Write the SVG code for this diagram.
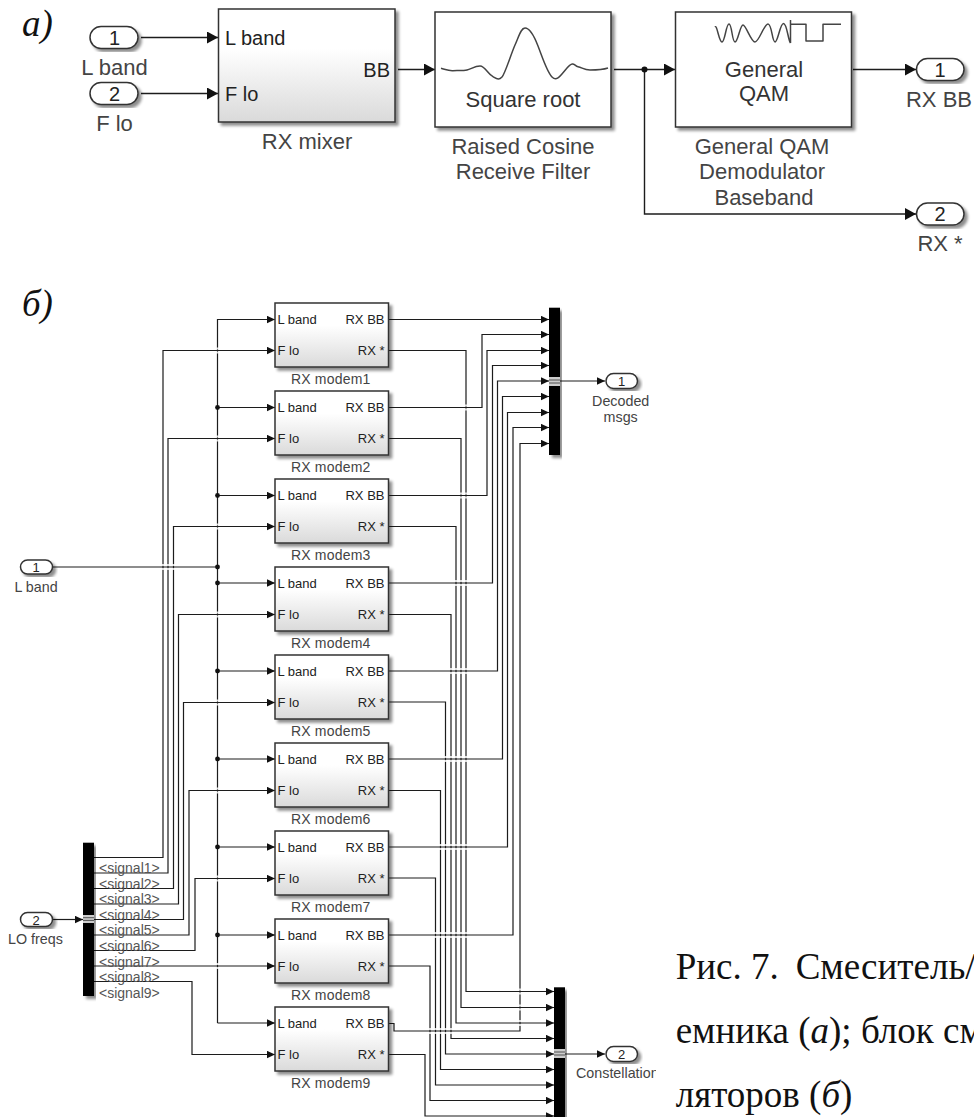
<svg xmlns="http://www.w3.org/2000/svg" width="974" height="1117" viewBox="0 0 974 1117">
<style>
text{font-family:"Liberation Sans",Arial,sans-serif;fill:#333}
.s{font-size:13px;fill:#222}
.t{font-size:14px;text-anchor:middle;fill:#444;letter-spacing:.2px}
.o{font-size:14.3px;text-anchor:middle;fill:#444}
.p{font-size:13px;text-anchor:middle;fill:#222}
.sig{font-size:14px;fill:#555}
.b{font-size:22px;text-anchor:middle;fill:#444}
.bi{font-size:22px;text-anchor:middle;fill:#333}
.in{font-size:20px;fill:#222}
.e{text-anchor:end}
.cap{font-family:"Liberation Serif","Times New Roman",serif;font-size:37px;fill:#111}
.i{font-style:italic}
.box{fill:url(#g);stroke:#333;stroke-width:1.5;filter:url(#sh)}
.wbox{fill:#fff;stroke:#333;stroke-width:1.5;filter:url(#sh)}
.port{fill:#fff;stroke:#333;stroke-width:1.5;filter:url(#sh)}
.mux{fill:#000;filter:url(#sh)}
.c{fill:none;stroke:#1c1c1c;stroke-width:1.2}
.cs{marker-end:url(#as)}
.cl{marker-end:url(#al);stroke-width:1.4}
.h{fill:none;stroke:#fff;stroke-width:2;opacity:.8}
.d{fill:#111}
.ic{fill:none;stroke:#444;stroke-width:1.5;stroke-linejoin:round}
</style>
<defs>
<linearGradient id="g" x1="0" y1="0" x2="0" y2="1"><stop offset="0" stop-color="#fff"/><stop offset=".35" stop-color="#fff"/><stop offset="1" stop-color="#dadada"/></linearGradient>
<filter id="sh" x="-10%" y="-10%" width="125%" height="125%"><feGaussianBlur in="SourceAlpha" stdDeviation="1.6"/><feOffset dx="2.5" dy="2.5"/><feComponentTransfer><feFuncA type="linear" slope=".45"/></feComponentTransfer><feMerge><feMergeNode/><feMergeNode in="SourceGraphic"/></feMerge></filter>
<marker id="as" markerUnits="userSpaceOnUse" markerWidth="9" markerHeight="8" refX="8" refY="4" orient="auto"><path d="M0 .3L8 4L0 7.7z" fill="#111"/></marker>
<marker id="al" markerUnits="userSpaceOnUse" markerWidth="12" markerHeight="12" refX="11" refY="6" orient="auto"><path d="M0 0L11 6L0 12z" fill="#111"/></marker>
<clipPath id="cl"><rect x="570" y="1060" width="86" height="26"/></clipPath>
</defs>
<rect width="974" height="1117" fill="#fff"/>

<g id="connectors">
<path class="c cl" d="M141 37.5H218"/>
<path class="c cl" d="M141 93.5H218"/>
<path class="c cl" d="M398 69.5H435"/>
<path class="c cl" d="M614 69.5H675"/>
<path class="c cl" d="M853 69.5H916"/>
<path class="c cl" d="M644.5 69.5V214H916"/>
<circle class="d" cx="644.5" cy="69.5" r="3"/>

<path class="c" d="M53 567H217.5"/>
<path class="c cs" d="M217.5 1023V319.5H275"/>
<path class="c cs" d="M217.5 407.5H275"/>
<path class="c cs" d="M217.5 495.5H275"/>
<path class="c cs" d="M217.5 583H275"/>
<path class="c cs" d="M217.5 671H275"/>
<path class="c cs" d="M217.5 759H275"/>
<path class="c cs" d="M217.5 847H275"/>
<path class="c cs" d="M217.5 935H275"/>
<path class="c cs" d="M217.5 1023H275"/>
<circle class="d" cx="217.5" cy="407.5" r="2.4"/><circle class="d" cx="217.5" cy="495.5" r="2.4"/><circle class="d" cx="217.5" cy="567" r="2.4"/><circle class="d" cx="217.5" cy="583" r="2.4"/><circle class="d" cx="217.5" cy="671" r="2.4"/><circle class="d" cx="217.5" cy="759" r="2.4"/><circle class="d" cx="217.5" cy="847" r="2.4"/><circle class="d" cx="217.5" cy="935" r="2.4"/>

<path class="c cs" d="M94 857.5H163V350.5H275"/>
<path class="c cs" d="M94 873H168V438.5H275"/>
<path class="c cs" d="M94 888.5H173.5V526.5H275"/>
<path class="c cs" d="M94 904H178.5V614.5H275"/>
<path class="c cs" d="M94 919.5H183.5V702.5H275"/>
<path class="c cs" d="M94 935H189V790.5H275"/>
<path class="c cs" d="M94 950.5H195V878.5H275"/>
<path class="c cs" d="M94 966H275"/>
<path class="c cs" d="M94 981.5H192V1054.5H275"/>
<path class="c cs" d="M53 919.5H83"/>

<path class="c cs" d="M389 319.5H549"/>
<path class="c cs" d="M389 407.5H482V334.5H549"/>
<path class="c cs" d="M389 495.5H487V350.5H549"/>
<path class="c cs" d="M389 583H492.5V365.5H549"/>
<path class="c cs" d="M389 671H497.5V381H549"/>
<path class="c cs" d="M389 759H502.5V396.5H549"/>
<path class="c cs" d="M389 847H507.5V412.5H549"/>
<path class="c cs" d="M389 935H513V427.5H549"/>
<path class="c cs" d="M389 1023.5H394V1031H520V443.5H549"/>
<path class="c cs" d="M560 381H605"/>

<path class="c cs" d="M389 350.5H466V991.5H554"/>
<path class="c cs" d="M389 438.5H461V1007.5H554"/>
<path class="c cs" d="M389 526.5H456V1023H554"/>
<path class="c cs" d="M389 614.5H451V1038.5H554"/>
<path class="c cs" d="M389 702H445.5V1054H554"/>
<path class="c cs" d="M389 790.5H440.5V1069.5H554"/>
<path class="c cs" d="M389 878H435.5V1085H554"/>
<path class="c cs" d="M389 966H430V1100.5H554"/>
<path class="c cs" d="M389 1054.5H425V1116H554"/>
<path class="c cs" d="M565 1054H605"/>

<path class="h" d="M389 405.5H479M389 409.5H479M389 493.5H484M389 497.5H484M389 581H489M389 585H489M389 669H494M389 673H494M389 757H499M389 761H499M389 845H505M389 849H505M389 933H510M389 937H510M398 1029H517M398 1033H517M516 989.5H524M516 993.5H524M516 1005.5H524M516 1009.5H524M516 1021H524M516 1025H524M214 348.5H221M214 352.5H221M214 436.5H221M214 440.5H221M214 524.5H221M214 528.5H221M214 612.5H221M214 616.5H221M214 700.5H221M214 704.5H221M214 788.5H221M214 792.5H221M214 876.5H221M214 880.5H221M214 964H221M214 968H221M160 565H177M160 569H177"/>
</g>

<g id="label-a"><text class="cap i" x="22" y="36">а)</text></g>
<g id="label-b"><text class="cap i" x="22" y="316">б)</text></g>

<g id="in-lband"><rect class="port" x="90" y="26.5" width="48" height="22" rx="11"/><text class="in" x="114.5" y="44.7" text-anchor="middle">1</text><text class="b" x="114.5" y="75">L band</text></g>
<g id="in-flo"><rect class="port" x="90" y="82.5" width="48" height="22" rx="11"/><text class="in" x="114.5" y="100.7" text-anchor="middle">2</text><text class="b" x="114.5" y="131">F lo</text></g>
<g id="rx-mixer"><rect class="box" x="218.5" y="9" width="176.5" height="113"/><text class="in" x="225" y="44.7">L band</text><text class="in" x="225" y="100.7">F lo</text><text class="in e" x="390" y="76.7">BB</text><text class="b" x="307" y="148.5">RX mixer</text></g>
<g id="rc-filter"><rect class="wbox" x="435" y="12" width="176" height="115"/><path class="ic" d="M441 68.3C447 70 449 71 453 70.700S463 71 467 70S475 66 480 66S488 74 493 76.700S499 80 502 77S511 54 515 45S521 28 525 28S533 33 538 46S547 72 552 77S560 76 567 68S574 66 578 66.700S584 70 590 70S602 70 608 68"/><text class="bi" x="523" y="106.700">Square root</text><text class="b" x="523" y="153.700">Raised Cosine</text><text class="b" x="523" y="179.300">Receive Filter</text></g>
<g id="qam"><rect class="wbox" x="675.500" y="12" width="176" height="115"/><path class="ic" d="M715 27C717 24 719 42 722 42S726 24 729 24S732 42 735 42S740 25 743 25S751 42 755 42S764 24 768 24S772 42 775 42S780 23.500 783.500 23.500S788 40 790.500 43M790.500 20V43M790.500 24.300H806V41H823V24.300H841"/><text class="bi" x="764" y="76.700">General</text><text class="bi" x="764" y="100.700">QAM</text><text class="b" x="762" y="153.700">General QAM</text><text class="b" x="762" y="179.300">Demodulator</text><text class="b" x="764" y="204.500">Baseband</text></g>
<g id="out-rxbb"><rect class="port" x="916.500" y="58.500" width="47.500" height="22" rx="11"/><text class="in" x="940" y="76.700" text-anchor="middle">1</text><text class="b" x="939" y="106.700">RX BB</text></g>
<g id="out-rxs"><rect class="port" x="916.500" y="203" width="47.500" height="22" rx="11"/><text class="in" x="940" y="221.200" text-anchor="middle">2</text><text class="b" x="940" y="250.700">RX *</text></g>

<g id="in2-lband"><rect class="port" x="20.500" y="560" width="32" height="14" rx="7"/><text class="p" x="36" y="572">1</text><text class="o" x="36" y="592">L band</text></g>
<g id="in2-lo"><rect class="port" x="20.500" y="912.500" width="32" height="14" rx="7"/><text class="p" x="36" y="924.700">2</text><text class="o" x="35.500" y="944">LO freqs</text></g>
<g id="demux"><rect class="mux" x="83" y="842.700" width="11" height="153.300"/><path d="M83 915h11v8H83z" fill="#ccc"/><path d="M83 917.700h11M83 920.400h11" stroke="#333" stroke-width=".8"/>
<text class="sig" x="99" y="873">&lt;signal1&gt;</text><text class="sig" x="99" y="888.600">&lt;signal2&gt;</text><text class="sig" x="99" y="904.200">&lt;signal3&gt;</text><text class="sig" x="99" y="919.800">&lt;signal4&gt;</text><text class="sig" x="99" y="935.400">&lt;signal5&gt;</text><text class="sig" x="99" y="951">&lt;signal6&gt;</text><text class="sig" x="99" y="966.600">&lt;signal7&gt;</text><text class="sig" x="99" y="982.200">&lt;signal8&gt;</text><text class="sig" x="99" y="997.800">&lt;signal9&gt;</text></g>

<g id="modem1"><rect class="box" x="275" y="303" width="113.500" height="64"/><text class="s" x="277.500" y="324.300">L band</text><text class="s" x="277.500" y="355.300">F lo</text><text class="s e" x="384.500" y="324.300">RX BB</text><text class="s e" x="384.500" y="355.300">RX *</text><text class="t" x="330.700" y="384">RX modem1</text></g>
<g id="modem2"><rect class="box" x="275" y="391" width="113.500" height="64"/><text class="s" x="277.500" y="412.300">L band</text><text class="s" x="277.500" y="443.300">F lo</text><text class="s e" x="384.500" y="412.300">RX BB</text><text class="s e" x="384.500" y="443.300">RX *</text><text class="t" x="330.700" y="472">RX modem2</text></g>
<g id="modem3"><rect class="box" x="275" y="479" width="113.500" height="64"/><text class="s" x="277.500" y="500.300">L band</text><text class="s" x="277.500" y="531.300">F lo</text><text class="s e" x="384.500" y="500.300">RX BB</text><text class="s e" x="384.500" y="531.300">RX *</text><text class="t" x="330.700" y="560">RX modem3</text></g>
<g id="modem4"><rect class="box" x="275" y="567" width="113.500" height="64"/><text class="s" x="277.500" y="588.300">L band</text><text class="s" x="277.500" y="619.300">F lo</text><text class="s e" x="384.500" y="588.300">RX BB</text><text class="s e" x="384.500" y="619.300">RX *</text><text class="t" x="330.700" y="648">RX modem4</text></g>
<g id="modem5"><rect class="box" x="275" y="655" width="113.500" height="64"/><text class="s" x="277.500" y="676.300">L band</text><text class="s" x="277.500" y="707.300">F lo</text><text class="s e" x="384.500" y="676.300">RX BB</text><text class="s e" x="384.500" y="707.300">RX *</text><text class="t" x="330.700" y="736">RX modem5</text></g>
<g id="modem6"><rect class="box" x="275" y="743" width="113.500" height="64"/><text class="s" x="277.500" y="764.300">L band</text><text class="s" x="277.500" y="795.300">F lo</text><text class="s e" x="384.500" y="764.300">RX BB</text><text class="s e" x="384.500" y="795.300">RX *</text><text class="t" x="330.700" y="824">RX modem6</text></g>
<g id="modem7"><rect class="box" x="275" y="831" width="113.500" height="64"/><text class="s" x="277.500" y="852.300">L band</text><text class="s" x="277.500" y="883.300">F lo</text><text class="s e" x="384.500" y="852.300">RX BB</text><text class="s e" x="384.500" y="883.300">RX *</text><text class="t" x="330.700" y="912">RX modem7</text></g>
<g id="modem8"><rect class="box" x="275" y="919" width="113.500" height="64"/><text class="s" x="277.500" y="940.300">L band</text><text class="s" x="277.500" y="971.300">F lo</text><text class="s e" x="384.500" y="940.300">RX BB</text><text class="s e" x="384.500" y="971.300">RX *</text><text class="t" x="330.700" y="1000">RX modem8</text></g>
<g id="modem9"><rect class="box" x="275" y="1007" width="113.500" height="64"/><text class="s" x="277.500" y="1028.300">L band</text><text class="s" x="277.500" y="1059.300">F lo</text><text class="s e" x="384.500" y="1028.300">RX BB</text><text class="s e" x="384.500" y="1059.300">RX *</text><text class="t" x="330.700" y="1088">RX modem9</text></g>

<g id="mux1"><rect class="mux" x="549" y="307.700" width="11" height="147.300"/><path d="M549 377h11v9h-11z" fill="#ccc"/><path d="M549 380h11M549 383h11" stroke="#333" stroke-width=".8"/></g>
<g id="mux2"><rect class="mux" x="554" y="987.300" width="11" height="140"/><path d="M554 1049h11v9h-11z" fill="#ccc"/><path d="M554 1052h11M554 1055h11" stroke="#333" stroke-width=".8"/></g>
<g id="out2-msgs"><rect class="port" x="606" y="373.500" width="31.500" height="15" rx="7.500"/><text class="p" x="621.500" y="386">1</text><text class="o" x="620.700" y="405.700">Decoded</text><text class="o" x="620.700" y="422">msgs</text></g>
<g id="out2-const"><rect class="port" x="606" y="1046.500" width="31.500" height="15" rx="7.500"/><text class="p" x="621.500" y="1059">2</text><text class="o" x="576" y="1078" style="text-anchor:start" clip-path="url(#cl)">Constellation</text></g>

<g id="caption"><text class="cap" x="675.700" y="979.300">Рис. 7.<tspan x="795.700">Смеситель/</tspan></text><text class="cap" x="675.700" y="1042.700">емника (<tspan class="i">а</tspan>); блок см</text><text class="cap" x="675.700" y="1107">ляторов (<tspan class="i">б</tspan>)</text></g>
</svg>
